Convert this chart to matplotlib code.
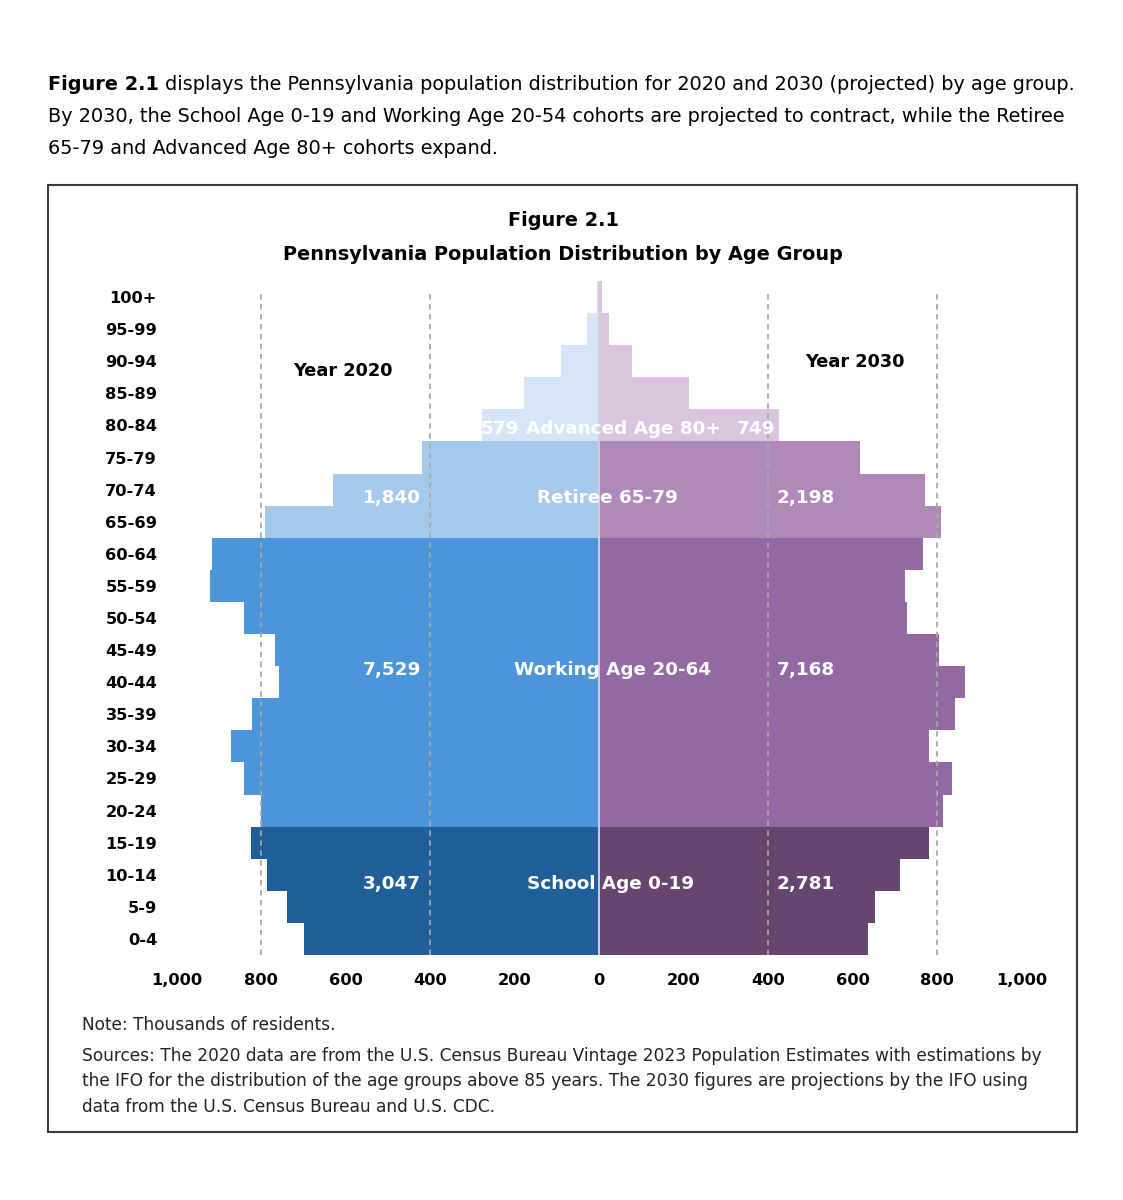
import matplotlib
matplotlib.use('Agg')
import matplotlib.pyplot as plt
from matplotlib.patches import Rectangle

# ---------------- data ----------------
age_groups = ["0-4", "5-9", "10-14", "15-19", "20-24", "25-29", "30-34", "35-39",
              "40-44", "45-49", "50-54", "55-59", "60-64", "65-69", "70-74", "75-79",
              "80-84", "85-89", "90-94", "95-99", "100+"]
pop_2020 = [699, 738, 786, 824, 799, 840, 870, 822, 757, 766, 840, 920, 915,
            790, 630, 420, 278, 178, 90, 28, 5]
pop_2030 = [636, 653, 712, 780, 815, 836, 780, 842, 867, 805, 730, 725, 768,
            810, 771, 617, 426, 214, 79, 23, 7]
row_cohort = [0] * 4 + [1] * 9 + [2] * 3 + [3] * 5
cohort_names = ["School Age 0-19", "Working Age 20-64", "Retiree 65-79", "Advanced Age 80+"]
totals_2020 = [3047, 7529, 1840, 579]
totals_2030 = [2781, 7168, 2198, 749]
x_ticks = [-1000, -800, -600, -400, -200, 0, 200, 400, 600, 800, 1000]

colors_2020 = ["#215F9B", "#4B95DA", "#A5C8EB", "#D7E6F6"]
colors_2030 = ["#66466F", "#9269A2", "#AE89B8", "#D9C6DE"]

W, H = 1123, 1200
fig = plt.figure(figsize=(W / 100, H / 100), dpi=100)
renderer = fig.canvas.get_renderer()
FAM = ['DejaVu Sans']


def P(x, y):
    return x / W, 1 - y / H


def width_of(text, size, weight='normal'):
    t = fig.text(0, 0, text, fontsize=size, weight=weight, family=FAM)
    w = t.get_window_extent(renderer).width
    t.remove()
    return w


def fit(text, target, weight='normal', base=20):
    return base * target / width_of(text, base, weight)


# ---------------- intro text ----------------
intro_bold = "Figure 2.1"
intro_rest = " displays the Pennsylvania population distribution for 2020 and 2030 (projected) by age group."
w1 = width_of(intro_bold, 20, 'bold') + width_of(intro_rest, 20)
s_intro = 20 * 1030 / w1
tb = fig.text(*P(48, 84), intro_bold, fontsize=s_intro, weight='bold', family=FAM, va='center', ha='left')
wb = tb.get_window_extent(renderer).width
fig.text(*P(48 + wb, 84), intro_rest, fontsize=s_intro, family=FAM, va='center', ha='left')
fig.text(*P(48, 116), "By 2030, the School Age 0-19 and Working Age 20-54 cohorts are projected to contract, while the Retiree",
         fontsize=s_intro, family=FAM, va='center', ha='left')
fig.text(*P(48, 148), "65-79 and Advanced Age 80+ cohorts expand.",
         fontsize=s_intro, family=FAM, va='center', ha='left')

# ---------------- box ----------------
x0, y0, x1, y1 = 48, 185, 1077, 1132
fig.patches.append(Rectangle(P(x0, y1), (x1 - x0) / W, (y1 - y0) / H, transform=fig.transFigure,
                             fill=False, edgecolor='#3a3a3a', linewidth=1.5))

# ---------------- titles ----------------
s_title = fit("Pennsylvania Population Distribution by Age Group", 560, 'bold')
fig.text(*P(563, 220), "Figure 2.1", fontsize=s_title, weight='bold', family=FAM, ha='center', va='center')
fig.text(*P(563, 254), "Pennsylvania Population Distribution by Age Group", fontsize=s_title, weight='bold',
         family=FAM, ha='center', va='center')

# ---------------- axes ----------------
ax = fig.add_axes([176.5 / W, (H - 955) / H, 845 / W, 674 / H])
ys = list(range(len(age_groups)))
ax.barh(ys, [-v for v in pop_2020], height=1.0, color=[colors_2020[c] for c in row_cohort],
        linewidth=0, zorder=2)
ax.barh(ys, pop_2030, height=1.0, color=[colors_2030[c] for c in row_cohort],
        linewidth=0, zorder=2)
ax.set_xlim(-1000, 1000)
ax.set_ylim(-0.5, len(age_groups) - 0.5)

for gx in [-800, -400, 400, 800]:
    ax.plot([gx, gx], [-0.5, 20.15], color='#a8a8a8', lw=1.3, ls=(0, (3, 2.5)), zorder=3)
ax.axvline(0, color='#cfcfd8', lw=1.4, zorder=2.5)

for sp in ax.spines.values():
    sp.set_visible(False)

s_tick = fit("95-99", 52, 'bold')
ax.set_yticks(ys)
ax.set_yticklabels(age_groups, fontsize=s_tick, weight='bold', family=FAM)
ax.set_xticks(x_ticks)
ax.set_xticklabels([f"{abs(v):,}" for v in x_ticks], fontsize=s_tick, weight='bold', family=FAM)
ax.tick_params(axis='y', length=0, pad=14)
ax.tick_params(axis='x', length=0, pad=13)

# year labels
s_year = fit("Year 2020", 100, 'bold')
ax.text(-606, 17.7, "Year 2020", fontsize=s_year, weight='bold', family=FAM, ha='center', va='center')
ax.text(606, 17.97, "Year 2030", fontsize=s_year, weight='bold', family=FAM, ha='center', va='center')

# cohort labels
s_in = fit("Working Age 20-64", 197, 'bold')
label_y = [1.71, 8.38, 13.74, 15.9]
name_x = [28, 33, 21, 57]
val_left_x = [-490, -490, -490, -234]
val_right_x = [490, 490, 490, 372]
for i in range(4):
    ax.text(name_x[i], label_y[i], cohort_names[i], color='white', fontsize=s_in, weight='bold',
            family=FAM, ha='center', va='center', zorder=4)
    ax.text(val_left_x[i], label_y[i], f"{totals_2020[i]:,}", color='white', fontsize=s_in, weight='bold',
            family=FAM, ha='center', va='center', zorder=4)
    ax.text(val_right_x[i], label_y[i], f"{totals_2030[i]:,}", color='white', fontsize=s_in, weight='bold',
            family=FAM, ha='center', va='center', zorder=4)

# ---------------- notes ----------------
s_note = fit("Sources: The 2020 data are from the U.S. Census Bureau Vintage 2023 Population Estimates with estimations by", 960)
fig.text(*P(82, 1025), "Note: Thousands of residents.", fontsize=s_note, family=FAM, ha='left', va='center', color='#222222')
notes = ["Sources: The 2020 data are from the U.S. Census Bureau Vintage 2023 Population Estimates with estimations by",
         "the IFO for the distribution of the age groups above 85 years. The 2030 figures are projections by the IFO using",
         "data from the U.S. Census Bureau and U.S. CDC."]
for k, line in enumerate(notes):
    fig.text(*P(82, 1056 + 25.5 * k), line, fontsize=s_note, family=FAM, ha='left', va='center', color='#222222')

fig.savefig("out.png", dpi=100, facecolor='white')
